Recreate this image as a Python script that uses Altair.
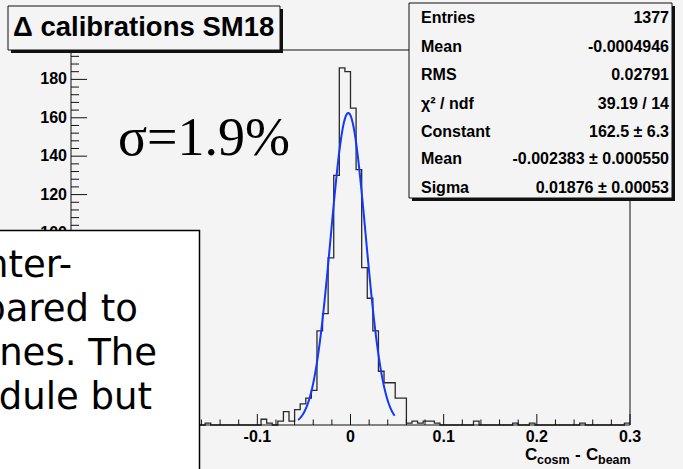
import altair as alt
import pandas as pd

# ---------------- data ----------------
X_MIN, X_MAX, N_BINS = -0.3, 0.3, 100
Y_MAX = 195.3

filled_bins = [24, 34, 35, 37, 38, 39, 40, 41, 42, 43, 44, 45, 46, 47, 48, 49,
               50, 51, 52, 53, 54, 55, 56, 57, 58, 59, 60, 61, 62, 63, 64, 65,
               72, 79, 82, 91, 99]
bin_counts = [1, 3, 1, 2, 7, 2, 8, 11, 14, 18, 49, 58, 87, 130, 186, 184,
              165, 133, 82, 66, 49, 28, 22, 22, 14, 14, 1, 2, 1, 2, 2, 1,
              2, 1, 1, 1, 1]

FIT_CONSTANT = 162.5
FIT_MEAN = -0.002383
FIT_SIGMA = 0.01876
FIT_FROM, FIT_TO = -0.0562, 0.0476

# only the tick labels that are not hidden by the white box
y_major_ticks = [0, 20, 40, 60, 80, 100, 120, 140, 160, 180]
y_label_values = [100, 120, 140, 160, 180]
y_tick_labels = ["100", "120", "140", "160", "180"]
y_minor_ticks = [v for v in range(4, 196, 4) if v % 20]
x_major_ticks = [-0.3, -0.2, -0.1, 0.0, 0.1, 0.2, 0.3]
x_label_values = [-0.1, 0.0, 0.1, 0.2, 0.3]
x_tick_labels = ["-0.1", "0", "0.1", "0.2", "0.3"]
x_minor_ticks = [round(-0.3 + 0.02 * i, 2) for i in range(31) if i % 5]

title_text = "\u0394 calibrations SM18"
sigma_text = "\u03c3=1.9%"
stat_labels = ["Entries", "Mean", "RMS", "\u03c7\u00b2 / ndf", "Constant", "Mean", "Sigma"]
stat_values = ["1377", "-0.0004946", "0.02791", "39.19 / 14", "162.5 \u00b1 6.3",
               "-0.002383 \u00b1 0.000550", "0.01876 \u00b1 0.00053"]
note_lines = ["nter-", "pared to", "nes. The", "dule but"]

# ---------------- layout ----------------
PAD_L, PAD_T, W, H = 71, 50, 559, 375
BG = "#f4f4f4"
SANS = "Liberation Sans"

counts = [0] * N_BINS
for k, c in zip(filled_bins, bin_counts):
    counts[k] = c
edges = [X_MIN + k * (X_MAX - X_MIN) / N_BINS for k in range(N_BINS + 1)]
hist_df = pd.DataFrame({"x": edges, "n": counts + [counts[-1]]})

xs = alt.Scale(domain=[X_MIN, X_MAX], nice=False, zero=False)
ys = alt.Scale(domain=[0, Y_MAX], nice=False, zero=False)
dummy = pd.DataFrame({"d": [0]})


def txt(s, x, y, **kw):
    return alt.Chart(dummy).mark_text(**kw).encode(
        x=alt.value(x), y=alt.value(y), text=alt.value(s))


def box(x1, y1, x2, y2, **kw):
    return alt.Chart(dummy).mark_rect(**kw).encode(
        x=alt.value(x1), x2=alt.value(x2), y=alt.value(y1), y2=alt.value(y2))


def seg(x1, y1, x2, y2, **kw):
    return alt.Chart(dummy).mark_rule(**kw).encode(
        x=alt.value(x1), x2=alt.value(x2), y=alt.value(y1), y2=alt.value(y2))


hist = alt.Chart(hist_df).mark_line(
    interpolate="step-after", color="#2a2a2a", strokeWidth=1.3).encode(
    x=alt.X("x:Q", scale=xs, axis=None),
    y=alt.Y("n:Q", scale=ys, axis=None))

curve = alt.Chart(alt.sequence(FIT_FROM, FIT_TO, 0.0004, as_="x")).transform_calculate(
    g=f"{FIT_CONSTANT}*exp(-0.5*pow((datum.x-({FIT_MEAN}))/{FIT_SIGMA},2))"
).mark_line(color="#1038ff", strokeWidth=2).encode(
    x=alt.X("x:Q", scale=xs, axis=None),
    y=alt.Y("g:Q", scale=ys, axis=None))

ymaj = alt.Chart(pd.DataFrame({"v": y_major_ticks})).mark_rule(color="#111").encode(
    y=alt.Y("v:Q", scale=ys, axis=None), x=alt.value(0), x2=alt.value(16))
ymin = alt.Chart(pd.DataFrame({"v": y_minor_ticks})).mark_rule(color="#111").encode(
    y=alt.Y("v:Q", scale=ys, axis=None), x=alt.value(0), x2=alt.value(8))
xmaj = alt.Chart(pd.DataFrame({"v": x_major_ticks})).mark_rule(color="#111").encode(
    x=alt.X("v:Q", scale=xs, axis=None), y=alt.value(H), y2=alt.value(H - 11))
xmin = alt.Chart(pd.DataFrame({"v": x_minor_ticks})).mark_rule(color="#111").encode(
    x=alt.X("v:Q", scale=xs, axis=None), y=alt.value(H), y2=alt.value(H - 5.5))

ylab = alt.Chart(pd.DataFrame({"v": y_label_values, "t": y_tick_labels})).mark_text(
    align="right", baseline="middle", font=SANS, fontWeight="bold", fontSize=16,
    color="#000").encode(
    y=alt.Y("v:Q", scale=ys, axis=None), x=alt.value(-4), text="t:N")
xlab = alt.Chart(pd.DataFrame({"v": x_label_values, "t": x_tick_labels})).mark_text(
    align="center", baseline="middle", font=SANS, fontWeight="bold", fontSize=16,
    color="#000").encode(
    x=alt.X("v:Q", scale=xs, axis=None), y=alt.value(387), text="t:N")

frame = [
    seg(0, 0, 0, H, color="#111"),
    seg(0, H, W, H, color="#111"),
    seg(0, 0, W, 0, color="#111"),
    seg(W, 0, W, H, color="#111"),
]

xtitle = [
    txt("C", 454, 410, align="left", baseline="alphabetic", font=SANS, fontWeight="bold", fontSize=17),
    txt("cosm", 466, 414, align="left", baseline="alphabetic", font=SANS, fontWeight="bold", fontSize=12.5),
    txt("-", 504, 410, align="left", baseline="alphabetic", font=SANS, fontWeight="bold", fontSize=17),
    txt("C", 515, 410, align="left", baseline="alphabetic", font=SANS, fontWeight="bold", fontSize=17),
    txt("beam", 527, 414, align="left", baseline="alphabetic", font=SANS, fontWeight="bold", fontSize=12.5),
]

sigma = txt(sigma_text, 47, 105, align="left", baseline="alphabetic",
            font="Liberation Serif", fontSize=54, color="#000")

# white overlay box with cut-off text
note_box = box(-76, 180.5, 128.5, 430, fill="white", stroke="#000", strokeWidth=1.5)
note_right = [1, 67, 86, 81]
note_base = [227, 271, 315, 359]
notes = [txt(s, xr, yb, align="right", baseline="alphabetic", font="DejaVu Sans",
             fontSize=37, color="#000")
         for s, xr, yb in zip(note_lines, note_right, note_base)]

# title box
title_layers = [
    box(-60, -41, 212, 3, fill="#111"),
    box(-63, -44, 209, 0, fill=BG, stroke="#111", strokeWidth=1),
    txt(title_text, -58, -22, align="left", baseline="middle", font=SANS,
        fontWeight="bold", fontSize=27.5, color="#000"),
]

# statistics box
stat_rows = [-31.7, -3.3, 25.3, 54, 81.7, 109.3, 137.7]
stat_layers = [
    box(341, -44, 604, 151, fill="#111"),
    box(338, -47, 601, 148, fill=BG, stroke="#111", strokeWidth=1),
]
for lab, val, yy in zip(stat_labels, stat_values, stat_rows):
    stat_layers.append(txt(lab, 350, yy, align="left", baseline="middle", font=SANS,
                           fontWeight="bold", fontSize=16, color="#000"))
    stat_layers.append(txt(val, 598, yy, align="right", baseline="middle", font=SANS,
                           fontWeight="bold", fontSize=16, color="#000"))

chart = alt.layer(
    hist, curve, ymin, ymaj, xmin, xmaj, *frame, ylab, xlab, *xtitle, sigma,
    note_box, *notes, *title_layers, *stat_layers
).properties(
    width=W, height=H,
    padding={"left": PAD_L, "top": PAD_T, "right": 683 - PAD_L - W, "bottom": 469 - PAD_T - H},
    autosize=alt.AutoSizeParams(type="none"),
    background=BG,
).configure_view(strokeWidth=0, fill=BG)

chart.save("out.html", embed_options={"renderer": "svg", "actions": False})
